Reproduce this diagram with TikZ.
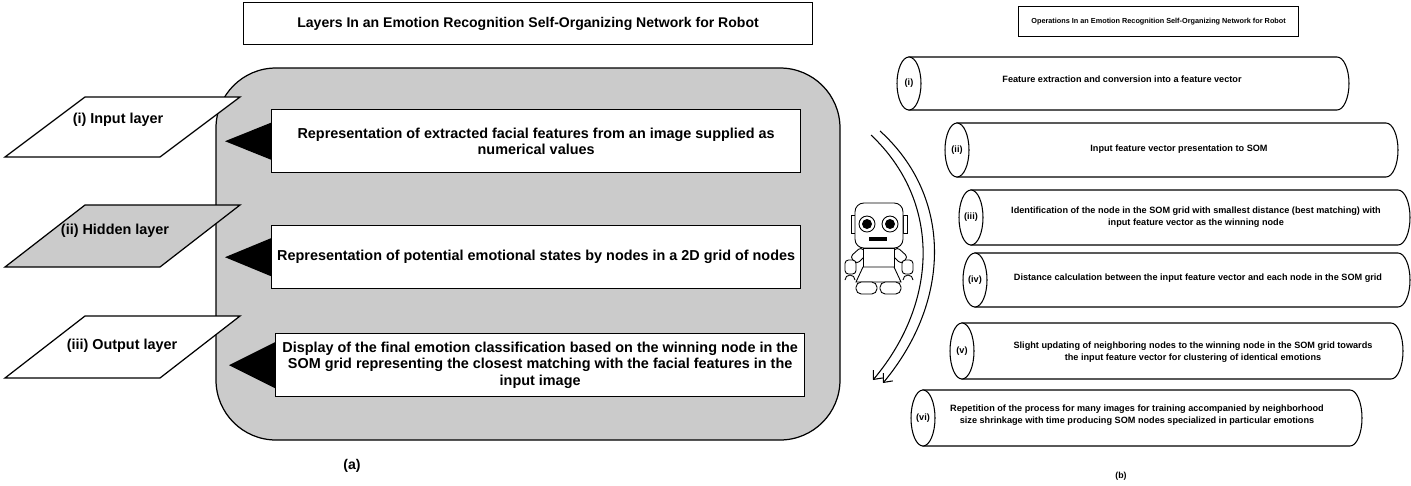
\documentclass[tikz,border=0pt]{standalone}
\usepackage{fontspec}
\setmainfont{Liberation Sans}
\usetikzlibrary{arrows.meta}
\usetikzlibrary{positioning}

\definecolor{panelgray}{RGB}{203,203,203}

\tikzset{
  heading/.style={draw, line width=0.7pt, inner sep=0pt, anchor=north west},
  layerbox/.style={draw, line width=0.7pt, fill=white},
  layertext/.style={font=\bfseries\fontsize{8.2}{10}\selectfont},
  stagebox/.style={draw, line width=0.8pt, fill=white, inner sep=0pt, align=center,
    minimum width=10.58cm, minimum height=1.26cm, anchor=north west,
    font=\bfseries\fontsize{8.2}{9.4}\selectfont},
  pointer/.style={fill=black},
  drum/.style={draw, line width=0.6pt, fill=white},
  optext/.style={align=center, font=\bfseries\fontsize{5.2}{7}\selectfont},
  oplabel/.style={font=\bfseries\fontsize{5.2}{7}\selectfont},
  sweep/.style={line width=0.6pt, -{Straight Barb[length=4pt,width=7pt]}},
}

\begin{document}
\begin{tikzpicture}[x=0.02cm, y=-0.02cm]
  \useasboundingbox (0,0) rectangle (1411,485);

  % headings
  \node[heading, minimum width=11.38cm, minimum height=0.84cm,
    font=\bfseries\fontsize{8}{9}\selectfont] (layersT) at (243,2)
    {Layers In an Emotion Recognition Self-Organizing Network for Robot};
  \node[heading, minimum width=5.6cm, minimum height=0.6cm,
    font=\bfseries\fontsize{4.15}{5}\selectfont] (opsT) at (1018,6)
    {Operations In an Emotion Recognition Self-Organizing Network for Robot};

  % (a) gray panel with the three stages
  \draw[fill=panelgray, line width=0.7pt, rounded corners=1.2cm] (216,68) rectangle (840,440);

  \node[stagebox] (repA) at (271,109)
    {Representation of extracted facial features from an image supplied as\\numerical values};
  \node[stagebox] (repB) at (271,225)
    {Representation of potential emotional states by nodes in a 2D grid of nodes};
  \node[stagebox] (repC) at (275,333)
    {Display of the final emotion classification based on the winning node in the\\
     SOM grid representing the closest matching with the facial features in the\\
     input image};

  \foreach \b/\h in {repA/18.5, repB/19, repC/23}
    \fill[pointer] (\b.west) ++(0,-\h) -- ++(-46,\h) -- ++(46,\h) -- cycle;

  % layers
  \draw[layerbox] (5,157) -- (160,157) -- (240,97) -- (85,97) -- cycle;
  \node[layertext] (inputL) at (118,120) {(i) Input layer};
  \draw[layerbox, fill=panelgray] (5,267) -- (160,267) -- (240,205) -- (85,205) -- cycle;
  \node[layertext] (hiddenL) at (115,231) {(ii) Hidden layer};
  \draw[layerbox] (5,378) -- (160,378) -- (240,316) -- (85,316) -- cycle;
  \node[layertext] (outputL) at (122,346) {(iii) Output layer};

  \node[font=\bfseries\fontsize{8}{9}\selectfont] (capA) at (352,466) {(a)};

  % (b) operations as drums
  \foreach \k/\xl/\yt/\yb/\xr/\px/\py/\lab/\txt in {
    i/897/57/110/1349/1122/79/{(i)}/{Feature extraction and conversion into a feature vector},
    ii/945/123/177/1398/1179/149/{(ii)}/{Input feature vector presentation to SOM},
    iii/959/190/245/1410/1196/217/{(iii)}/{Identification of the node in the SOM grid with smallest distance (best matching) with\\input feature vector as the winning node},
    iv/963/253/307/1410/1198/278/{(iv)}/{Distance calculation between the input feature vector and each node in the SOM grid},
    v/950/323/379/1403/1193/352/{(v)}/{Slight updating of neighboring nodes to the winning node in the SOM grid towards\\the input feature vector for clustering of identical emotions},
    vi/911/390/446/1362/1137/415/{(vi)}/{Repetition of the process for many images for training accompanied by neighborhood\\size shrinkage with time producing SOM nodes specialized in particular emotions}} {
    \pgfmathsetmacro\ry{(\yb-\yt)/2}
    \pgfmathsetmacro\cy{(\yt+\yb)/2}
    \draw[drum] (\xl+12,\yt) -- (\xr-12,\yt)
      arc[start angle=-90, end angle=90, x radius=12, y radius=\ry] -- (\xl+12,\yb) -- cycle;
    \draw[drum] (\xl+12,\cy) ellipse[x radius=12, y radius=\ry];
    \node[oplabel] (tag\k) at (\xl+12,\cy) {\lab};
    \node[optext] (op\k) at (\px,\py) {\txt};
  }

  \node[font=\bfseries\fontsize{5}{6}\selectfont] (capB) at (1121,476) {(b)};

  % sweep arrows
  \coordinate (sweepA0) at (871,135);
  \coordinate (sweepA1) at (873,380);
  \coordinate (sweepB0) at (880,131);
  \coordinate (sweepB1) at (883,383);
  \draw[sweep] (sweepA0) .. controls (940,200) and (940,300) .. (sweepA1);
  \draw[sweep] (sweepB0) .. controls (952,196) and (952,300) .. (sweepB1);

  % robot
  \begin{scope}[line width=0.5pt]
    \foreach \s in {1,-1} {
      \begin{scope}[shift={(879,0)}, xscale=\s]
        \draw[fill=white, rounded corners=2pt] (-18,247) -- (-12,254) -- (-22,264) -- (-29,257) -- cycle;
        \draw[fill=white, rounded corners=2pt] (-34,260) rectangle (-23,274);
        \draw (-34,280) arc[start angle=180, end angle=360, radius=5];
        \draw[fill=white] (-28,215) rectangle (-24,233);
      \end{scope}
    }
    \draw[fill=white, rounded corners=5pt] (855,203) rectangle (903,248);
    \draw[fill=white] (867,224) circle[radius=8];
    \fill (867,224) circle[radius=5];
    \draw[fill=white] (890,224) circle[radius=8];
    \fill (890,224) circle[radius=5];
    \fill (869,237) rectangle (887,241);
    \draw[fill=white] (863,248) rectangle (894,267);
    \draw[fill=white] (863,267) -- (894,267) -- (901,282) -- (856,282) -- cycle;
    \draw[fill=white, rounded corners=3pt] (856,282) rectangle (877,294);
    \draw[fill=white, rounded corners=3pt] (880,282) rectangle (901,294);
  \end{scope}
\end{tikzpicture}
\end{document}
